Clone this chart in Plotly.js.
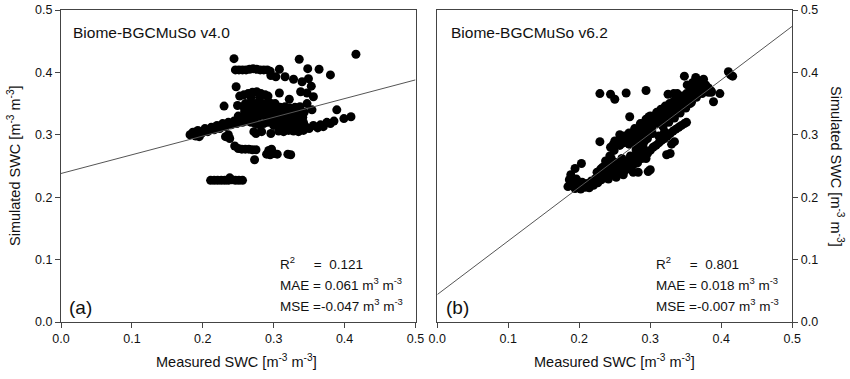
<!DOCTYPE html>
<html>
<head>
<meta charset="utf-8">
<script src="https://cdn.plot.ly/plotly-3.0.1.min.js"></script>
<style>html,body{margin:0;padding:0;background:#fff;}#chart{width:850px;height:379px;}</style>
</head>
<body>
<div id="chart"></div>
<script>
// Panel (a): Biome-BGCMuSo v4.0 — measured vs simulated SWC
const v4Measured = [
  0.211,0.216,0.221,0.226,0.231,0.236,0.241,0.246,0.251,0.256,0.238,
  0.182,0.186,0.190,0.193,0.198,0.203,0.207,0.212,0.216,0.220,0.224,0.228,0.232,0.236,0.240,0.244,0.248,0.252,0.256,0.260,0.195,0.232,0.238,0.236,
  0.245,0.250,0.255,0.260,0.265,0.270,0.275,0.273,
  0.290,0.295,0.300,0.297,0.293,0.305,0.320,0.324,
  0.246,0.251,0.256,0.261,0.266,0.271,0.276,0.281,0.286,0.291,0.295,
  0.244,0.336,0.416,0.308,0.348,0.364,0.380,0.296,0.303,0.316,0.328,0.349,0.340,0.247,0.353,0.338,0.347,0.356,0.347,0.354,0.230,0.249,0.389,0.409,0.399,0.385,0.375,0.366,0.356,0.272,0.283,0.296,0.275,
  0.252,0.258,0.264,0.270,0.276,0.282,0.288,0.292,0.268,0.280,0.308,0.322,
  0.258,0.265,0.272,0.279,0.286,0.293,0.300,
  0.259,0.266,0.273,0.280,0.287,0.294,0.301,
  0.258,0.265,0.272,0.279,0.286,0.293,0.300,
  0.260,0.267,0.274,0.281,0.288,0.295,0.302,
  0.307,0.314,0.321,0.328,0.335,0.342,
  0.308,0.315,0.322,0.329,0.336,0.343,
  0.307,0.314,0.321,0.328,0.335,0.342,
  0.306,0.313,0.320,0.327,0.334,0.341,
  0.308,0.315,0.322,0.329,0.336,0.343,
  0.309,0.316,0.323,0.330,0.337,
  0.350,0.362,0.370,0.380,0.345,
  0.250,0.256,0.262,0.268,0.274,0.280,0.286,0.292,0.298,0.300
];
const v4Simulated = [
  0.227,0.227,0.227,0.227,0.227,0.227,0.228,0.227,0.227,0.227,0.231,
  0.300,0.304,0.298,0.307,0.302,0.310,0.305,0.312,0.308,0.315,0.310,0.318,0.313,0.320,0.316,0.322,0.318,0.325,0.320,0.326,0.297,0.297,0.294,0.300,
  0.282,0.278,0.277,0.277,0.277,0.276,0.276,0.260,
  0.269,0.268,0.270,0.277,0.275,0.269,0.269,0.268,
  0.404,0.404,0.404,0.404,0.405,0.406,0.405,0.404,0.404,0.404,0.402,
  0.422,0.421,0.429,0.405,0.406,0.405,0.396,0.395,0.393,0.393,0.389,0.390,0.385,0.377,0.378,0.369,0.367,0.361,0.350,0.340,0.346,0.347,0.340,0.329,0.326,0.322,0.320,0.316,0.315,0.305,0.305,0.302,0.302,
  0.362,0.364,0.366,0.368,0.369,0.366,0.364,0.362,0.360,0.360,0.367,0.357,
  0.330,0.331,0.329,0.330,0.332,0.330,0.331,
  0.337,0.338,0.336,0.337,0.338,0.337,0.336,
  0.344,0.343,0.345,0.344,0.343,0.344,0.345,
  0.350,0.351,0.350,0.352,0.350,0.351,0.350,
  0.306,0.305,0.307,0.306,0.305,0.307,
  0.313,0.312,0.313,0.314,0.312,0.313,
  0.320,0.321,0.320,0.319,0.321,0.320,
  0.328,0.327,0.328,0.329,0.327,0.328,
  0.336,0.335,0.336,0.337,0.335,0.336,
  0.344,0.345,0.343,0.344,0.345,
  0.310,0.311,0.313,0.318,0.313,
  0.330,0.325,0.322,0.320,0.318,0.316,0.318,0.320,0.322,0.315
];
const v4FitX = [0.0, 0.5];
const v4FitY = [0.238, 0.388];

// Panel (b): Biome-BGCMuSo v6.2 — measured vs simulated SWC
const v6Measured = [
  0.184,0.186,0.188,0.191,0.194,0.196,0.199,0.202,0.204,0.208,0.211,0.214,0.217,0.220,0.223,0.226,0.228,0.231,0.233,0.235,
  0.237,0.239,0.241,0.243,0.245,0.247,0.249,0.250,0.252,0.254,0.256,0.258,0.260,0.262,0.264,0.266,0.268,0.270,0.272,0.274,
  0.276,0.278,0.280,0.282,0.284,0.286,0.288,0.290,0.292,0.294,0.296,0.298,0.300,0.303,0.306,0.309,0.312,0.315,0.318,0.321,
  0.324,0.327,0.330,0.333,0.336,0.339,0.342,0.345,0.348,0.351,0.354,0.357,0.360,0.363,0.366,0.370,0.374,0.378,0.382,0.386,
  0.225,0.230,0.240,0.245,0.250,0.255,0.260,0.265,0.270,0.275,0.280,0.285,0.290,0.270,0.275,0.280,0.285,0.290,0.295,0.300,0.305,0.248,0.257,0.262,
  0.296,0.300,0.304,0.308,0.312,0.316,0.320,0.324,0.328,0.332,0.336,0.340,0.344,0.348,0.351,0.312,0.320,
  0.323,0.328,0.330,0.334,0.276,0.283,0.297,0.300,
  0.229,0.203,0.194,0.229,0.244,0.250,0.266,0.294,0.325,0.333,0.338,0.348,0.364,0.375,0.398,0.389,0.410,0.413,0.416,
  0.352,0.357,0.362,0.367,0.372,0.378,0.382,0.386,0.370,0.360,0.271,0.298,0.257,
  0.302,0.307,0.311,0.316,0.320,0.325,0.329,0.334,0.338,0.343,0.347,0.352,0.356,0.361,0.365,0.369,0.373,0.377,
  0.318,0.326,0.334,0.342,0.350,0.358,
  0.232,0.238,0.244,0.250,0.258,0.264,0.270,0.276,0.282,0.288,0.294,0.272,0.278,0.284,0.288,0.292,0.296,0.244,0.250
];
const v6Simulated = [
  0.217,0.228,0.236,0.221,0.214,0.229,0.218,0.213,0.224,0.216,0.222,0.215,0.226,0.219,0.230,0.223,0.238,0.228,0.248,0.234,
  0.258,0.241,0.229,0.266,0.248,0.236,0.275,0.256,0.232,0.284,0.241,0.292,0.250,0.236,0.298,0.258,0.245,0.303,0.266,0.290,
  0.252,0.310,0.276,0.296,0.262,0.318,0.285,0.305,0.270,0.325,0.294,0.313,0.330,0.302,0.320,0.336,0.326,0.341,0.331,0.346,
  0.336,0.350,0.340,0.354,0.344,0.358,0.348,0.362,0.352,0.366,0.357,0.370,0.362,0.374,0.368,0.378,0.373,0.380,0.375,0.370,
  0.240,0.245,0.250,0.262,0.245,0.252,0.262,0.250,0.255,0.262,0.268,0.275,0.280,0.285,0.298,0.303,0.310,0.318,0.310,0.320,0.330,0.285,0.283,0.287,
  0.270,0.275,0.280,0.283,0.287,0.291,0.294,0.298,0.302,0.306,0.309,0.312,0.315,0.318,0.320,0.298,0.305,
  0.268,0.270,0.285,0.289,0.240,0.240,0.241,0.244,
  0.289,0.254,0.246,0.366,0.365,0.357,0.367,0.371,0.365,0.366,0.366,0.394,0.392,0.389,0.366,0.353,0.401,0.396,0.394,
  0.380,0.374,0.378,0.382,0.376,0.372,0.368,0.368,0.386,0.384,0.329,0.329,0.300,
  0.312,0.328,0.318,0.333,0.325,0.343,0.333,0.347,0.338,0.355,0.345,0.359,0.350,0.368,0.360,0.371,0.366,0.375,
  0.313,0.320,0.327,0.335,0.343,0.352,
  0.238,0.245,0.240,0.238,0.246,0.243,0.248,0.258,0.255,0.262,0.262,0.290,0.284,0.290,0.298,0.290,0.302,0.280,0.290
];
const v6FitX = [0.0, 0.5];
const v6FitY = [0.044, 0.474];

const tickVals = [0, 0.1, 0.2, 0.3, 0.4, 0.5];
const tickText = ['0.0', '0.1', '0.2', '0.3', '0.4', '0.5'];

const FONT = 'Liberation Sans, Arial, sans-serif';
const marker = {color: '#000', size: 9, line: {width: 0}};
const fitLine = {color: '#555', width: 1};

const traces = [
  {x: v4Measured, y: v4Simulated, type: 'scatter', mode: 'markers', marker: marker, xaxis: 'x', yaxis: 'y', hoverinfo: 'skip'},
  {x: v4FitX, y: v4FitY, type: 'scatter', mode: 'lines', line: fitLine, xaxis: 'x', yaxis: 'y', hoverinfo: 'skip'},
  {x: v6Measured, y: v6Simulated, type: 'scatter', mode: 'markers', marker: marker, xaxis: 'x2', yaxis: 'y2', hoverinfo: 'skip'},
  {x: v6FitX, y: v6FitY, type: 'scatter', mode: 'lines', line: fitLine, xaxis: 'x2', yaxis: 'y2', hoverinfo: 'skip'}
];

const axisCommon = {
  range: [0, 0.5], tickvals: tickVals, ticktext: tickText,
  showgrid: false, zeroline: false, showline: true, linecolor: '#444', linewidth: 1,
  mirror: true, ticks: 'outside', ticklen: 5, tickcolor: '#444',
  tickfont: {family: FONT, size: 12.5, color: '#111'}, fixedrange: true
};

const W = 850, T = 10, B = 57, H = 379;
const ph = H - T - B;
const px = v => v / W;
const py = v => (H - B - v) / ph;

function ann(text, x, y, opts) {
  return Object.assign({text: text, x: px(x), y: py(y), xref: 'paper', yref: 'paper',
    xanchor: 'left', yanchor: 'middle', showarrow: false,
    font: {family: FONT, size: 13.5, color: '#111'}}, opts || {});
}
const nb = '\u00a0';
const titleFont = {family: FONT, size: 14.5, color: '#111'};

const layout = {
  width: 850, height: 379,
  margin: {l: 0, r: 0, t: T, b: B},
  paper_bgcolor: '#fff', plot_bgcolor: '#fff',
  showlegend: false,
  xaxis: Object.assign({}, axisCommon, {domain: [px(61), px(415.5)], anchor: 'y'}),
  yaxis: Object.assign({}, axisCommon, {domain: [0, 1], anchor: 'x', side: 'left'}),
  xaxis2: Object.assign({}, axisCommon, {domain: [px(437.3), px(792.3)], anchor: 'y2'}),
  yaxis2: Object.assign({}, axisCommon, {domain: [0, 1], anchor: 'x2', side: 'right'}),
  annotations: [
    ann('Biome-BGCMuSo v4.0', 71, 33, {font: {family: FONT, size: 15.5, color: '#111'}}),
    ann('Biome-BGCMuSo v6.2', 449, 33, {font: {family: FONT, size: 15.5, color: '#111'}}),
    ann('R<sup>2</sup>' + nb.repeat(5) + '=' + nb + nb + '0.121', 278, 263),
    ann('MAE = 0.061 m<sup>3</sup> m<sup>-3</sup>', 278, 284),
    ann('MSE =-0.047 m<sup>3</sup> m<sup>-3</sup>', 278, 305),
    ann('R<sup>2</sup>' + nb.repeat(5) + '=' + nb + nb + '0.801', 654, 263),
    ann('MAE = 0.018 m<sup>3</sup> m<sup>-3</sup>', 654, 284),
    ann('MSE =-0.007 m<sup>3</sup> m<sup>-3</sup>', 654, 305),
    ann('(a)', 67, 307, {font: {family: FONT, size: 19, color: '#111'}}),
    ann('(b)', 444, 307, {font: {family: FONT, size: 19, color: '#111'}}),
    ann('Measured SWC [m<sup>-3</sup> m<sup>-3</sup>]', 236, 361, {xanchor: 'center', font: titleFont}),
    ann('Measured SWC [m<sup>-3</sup> m<sup>-3</sup>]', 614, 361, {xanchor: 'center', font: titleFont}),
    ann('Simulated SWC [m<sup>-3</sup> m<sup>-3</sup>]', 14, 166, {xanchor: 'center', textangle: -90, font: titleFont}),
    ann('Simulated SWC [m<sup>-3</sup> m<sup>-3</sup>]', 837, 166, {xanchor: 'center', textangle: 90, font: titleFont})
  ]
};

Plotly.newPlot('chart', traces, layout, {staticPlot: true, displayModeBar: false});
</script>
</body>
</html>
